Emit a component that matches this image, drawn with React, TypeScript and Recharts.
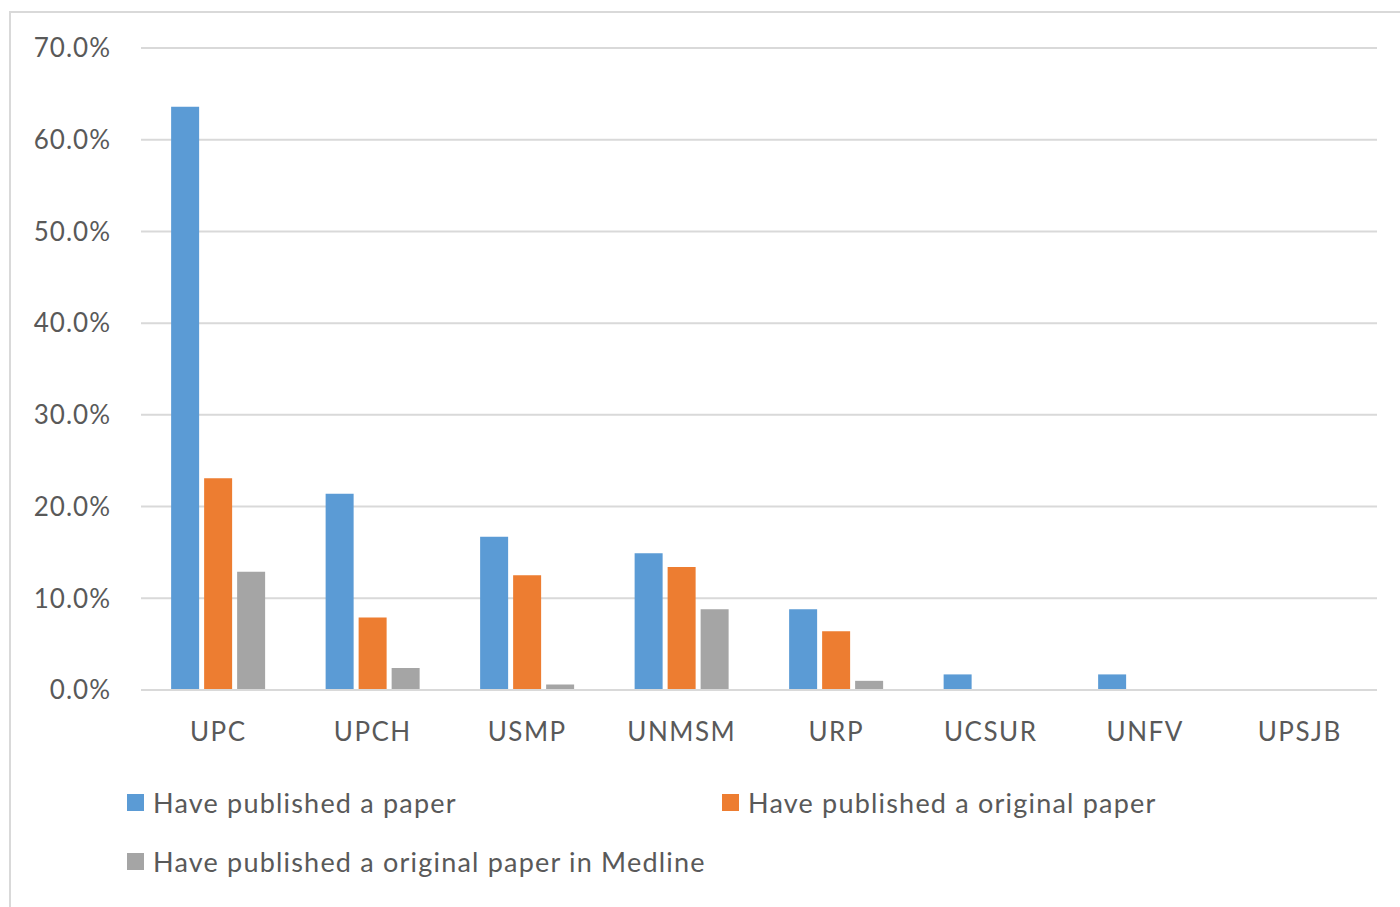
import { BarChart, Bar, XAxis, YAxis, CartesianGrid } from 'recharts';

const universities = ['UPC', 'UPCH', 'USMP', 'UNMSM', 'URP', 'UCSUR', 'UNFV', 'UPSJB'];
const publishedPaper = [0.636, 0.214, 0.167, 0.149, 0.088, 0.017, 0.017, 0];
const publishedOriginal = [0.231, 0.079, 0.125, 0.134, 0.064, 0, 0, 0];
const publishedMedline = [0.129, 0.024, 0.006, 0.088, 0.01, 0, 0, 0];
const yTicks = [0, 0.1, 0.2, 0.3, 0.4, 0.5, 0.6, 0.7];

const seriesNames = [
  'Have published a paper',
  'Have published a original paper',
  'Have published a original paper in Medline',
];
const colors = ['#5B9BD5', '#ED7D31', '#A5A5A5'];

const FONT = 'Lato, "Open Sans", sans-serif';

export default function App() {
  const data = universities.map((u, i) => ({
    name: u,
    paper: publishedPaper[i],
    original: publishedOriginal[i],
    medline: publishedMedline[i],
  }));

  const legendItem = (i: number, left: number, top: number) => (
    <div
      key={i}
      style={{ position: 'absolute', left, top, display: 'flex', alignItems: 'center', color: '#595959', fontSize: 27, letterSpacing: 1.2, whiteSpace: 'nowrap' }}
    >
      <span style={{ display: 'inline-block', width: 17, height: 17, background: colors[i], marginRight: 9 }} />
      {seriesNames[i]}
    </div>
  );

  return (
    <div style={{ position: 'absolute', left: 0, top: 0, width: 1400, height: 907, background: '#fff', fontFamily: FONT, overflow: 'hidden' }}>
      <div style={{ position: 'absolute', left: 9, top: 11, width: 1400, height: 900, border: '2px solid #d9d9d9', boxSizing: 'border-box' }} />
      <div style={{ position: 'absolute', left: 0, top: 0 }}>
        <BarChart
          width={1400}
          height={907}
          data={data}
          margin={{ top: 48, right: 23, bottom: 157, left: 0 }}
          barCategoryGap="19.5%"
          barGap={5}
        >
          <CartesianGrid vertical={false} stroke="#d9d9d9" strokeWidth={2} />
          <XAxis
            dataKey="name"
            axisLine={{ stroke: '#d9d9d9', strokeWidth: 2 }}
            tickLine={false}
            tickSize={0}
            tickMargin={33}
            height={60}
            tick={{ fill: '#595959', fontSize: 26, fontFamily: FONT, letterSpacing: 1.5 }}
          />
          <YAxis
            width={141}
            domain={[0, 0.7]}
            ticks={yTicks}
            axisLine={false}
            tickLine={false}
            tickSize={0}
            tickMargin={30}
            tickFormatter={(v: number) => `${(v * 100).toFixed(1)}%`}
            tick={{ fill: '#595959', fontSize: 26, fontFamily: FONT, letterSpacing: 1 }}
          />
          <Bar dataKey="paper" fill={colors[0]} isAnimationActive={false} />
          <Bar dataKey="original" fill={colors[1]} isAnimationActive={false} />
          <Bar dataKey="medline" fill={colors[2]} isAnimationActive={false} />
        </BarChart>
      </div>
      {legendItem(0, 127, 786)}
      {legendItem(1, 722, 786)}
      {legendItem(2, 127, 845)}
    </div>
  );
}
